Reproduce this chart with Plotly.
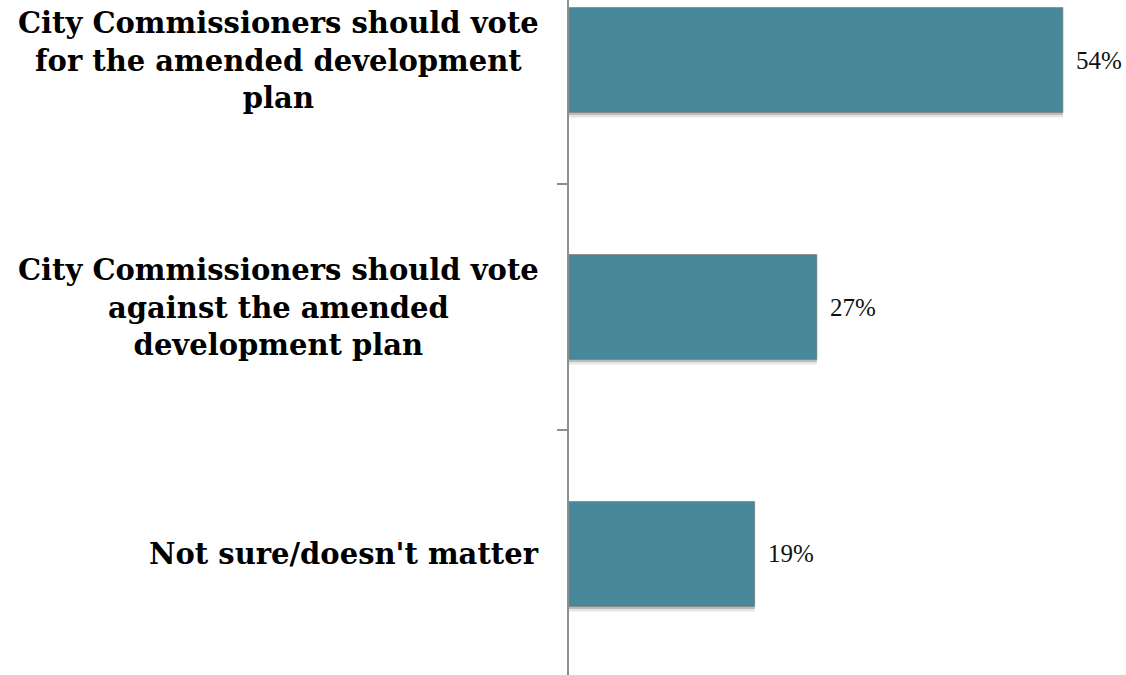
import plotly.graph_objects as go

categories = [
    "City Commissioners should vote<br>for the amended development<br>plan",
    "City Commissioners should vote<br>against the amended<br>development plan",
    "Not sure/doesn't matter",
]
# bar lengths as measured on the picture; labels as printed
values = [54, 27.1, 20.3]
value_labels = ["54%", "27%", "19%"]

bar_color = "#47889a"
axis_color = "#8e8e8e"
bar_width = 0.425

fig = go.Figure()

# soft shadow under bars (two layers to fake a blur)
for shift, alpha in [(0.020, 0.10), (0.010, 0.18)]:
    fig.add_trace(go.Bar(
        y=categories, x=values, orientation="h",
        width=bar_width, offset=-bar_width / 2 + shift,
        marker=dict(color="rgba(0,0,0,%s)" % alpha, line=dict(width=0)),
        hoverinfo="skip", showlegend=False,
    ))
fig.add_trace(go.Bar(
    y=categories, x=values, orientation="h",
    width=bar_width, offset=-bar_width / 2,
    marker=dict(color=bar_color, line=dict(color="rgba(130,130,130,0.7)", width=1)),
    showlegend=False,
))

for cat, v, lab in zip(categories, values, value_labels):
    fig.add_annotation(
        x=v, y=cat, xref="x", yref="y", text=lab, showarrow=False,
        xanchor="left", yanchor="middle", xshift=11,
        font=dict(family="Liberation Serif", size=25, color="#111111"),
    )
    fig.add_annotation(
        x=0, y=cat, xref="x", yref="y", text="<b>" + cat + "</b>", showarrow=False,
        xanchor="right", yanchor="middle", xshift=-28, align="center",
        font=dict(family="DejaVu Serif", size=29, color="#000000"),
    )

fig.update_layout(
    width=1126, height=675,
    margin=dict(l=569, r=0, t=0, b=0),
    paper_bgcolor="white", plot_bgcolor="white",
    barmode="overlay",
    xaxis=dict(range=[0, 60.9], visible=False, showgrid=False, zeroline=False),
    yaxis=dict(
        type="category", range=[2.49, -0.243],
        showticklabels=False, showgrid=False, zeroline=False,
        showline=True, linecolor=axis_color, linewidth=2,
        ticks="outside", ticklen=10, tickwidth=2, tickcolor=axis_color,
        tickson="boundaries",
    ),
)

fig.write_html("out.html", config={"displayModeBar": False},
               post_script="document.body.style.margin='0';")
